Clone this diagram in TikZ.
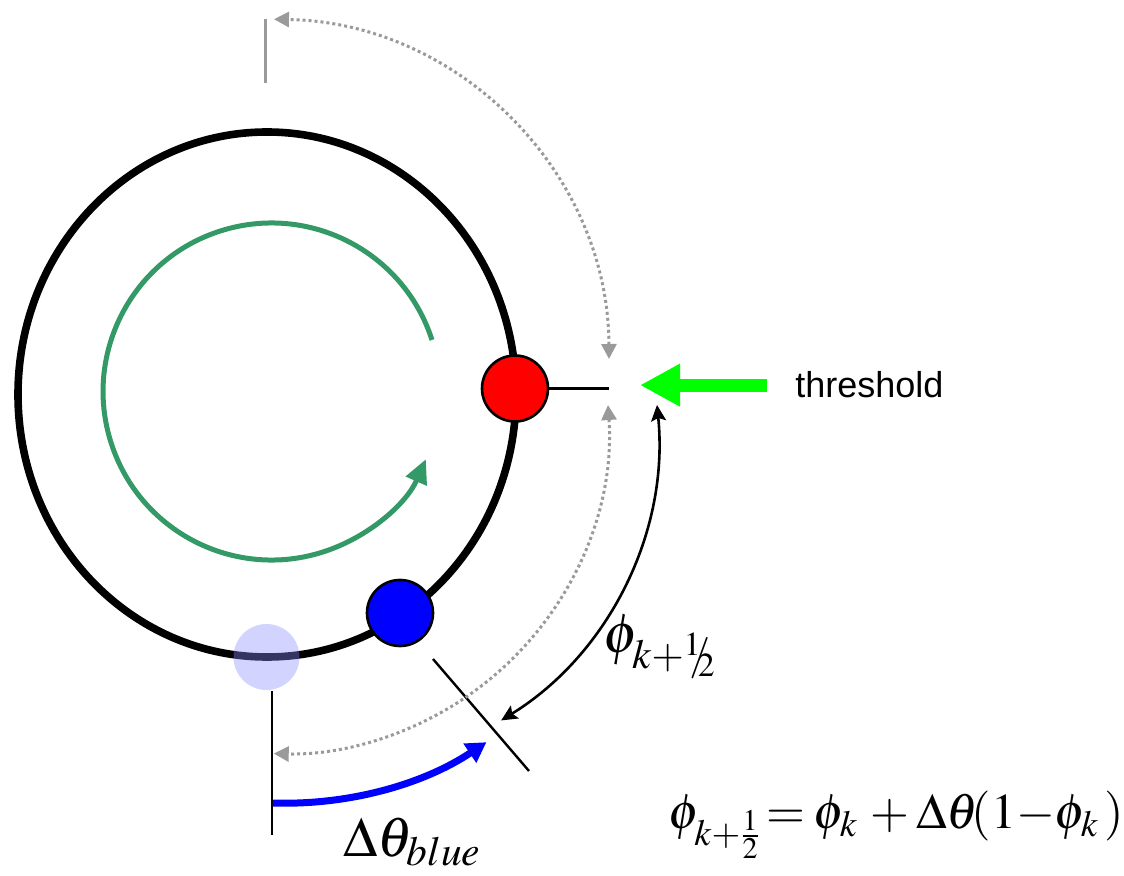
\documentclass[tikz,border=0pt]{standalone}
\usepackage{mathptmx}
\usepackage[no-math]{fontspec}
\newfontfamily\labelfont{Liberation Sans}
\usepackage{tikz}
\usetikzlibrary{arrows.meta, calc, positioning}
\definecolor{mGreen}{HTML}{339966}
\definecolor{mLime}{HTML}{00FF00}
\definecolor{mGrey}{HTML}{9A9A9A}
\newcommand{\slashhalf}{\raisebox{.55ex}{$\scriptscriptstyle 1$}\kern-.2em/\kern-.22em\raisebox{-.35ex}{$\scriptscriptstyle 2$}}

\begin{document}
\begin{tikzpicture}[x=0.5pt, y=-0.5pt,
  ring/.style={line width=3.8pt},
  ball/.style={circle, draw=black, line width=1.3pt, inner sep=0pt, minimum size=33pt},
  spin/.style={mGreen, line width=2.5pt, -{Triangle[length=12pt, width=11pt]}},
  gaparc/.style={mGrey, line width=1.5pt, dash pattern=on 1.5pt off 1.5pt,
                 {Triangle[length=7.5pt, width=7.5pt]}-{Triangle[length=7.5pt, width=7.5pt]}},
  phasearc/.style={line width=1.3pt, {Stealth[length=8pt, width=7.5pt, inset=1.5pt]}-{Stealth[length=8pt, width=7.5pt, inset=1.5pt]}},
  kick/.style={blue, line width=3.5pt, -{Triangle[length=10pt, width=11pt]}},
  markline/.style={line width=1.2pt},
  bigmath/.style={inner sep=0pt, font=\fontsize{28}{32}\selectfont}]
  \useasboundingbox (0,0) rectangle (1124,876);
  % oscillator ring and direction of rotation
  \draw[ring] (267,394.5) ellipse [x radius=249, y radius=262.5];
  \coordinate (spinA) at (432,340);
  \draw[spin] (spinA) arc[start angle=-17.8, end angle=-336.3, radius=168.5];
  % phases
  \node[ball, fill=blue!45, fill opacity=0.38, draw=none] (ghost) at (266.5,657) {};
  \node[ball, fill=red] (red) at (515,388.5) {};
  \node[ball, fill=blue] (blue) at (400,613) {};
  % threshold
  \coordinate (thrpt) at (609,388.5);
  \draw[markline] (red.east) -- (thrpt);
  \node[anchor=base west, inner sep=0pt, font=\labelfont\fontsize{18}{22}\selectfont] (thr) at (795,398) {threshold};
  \coordinate (gtip) at (640,383);
  \draw[mLime, line width=6.5pt, -{Triangle[length=20pt, width=20pt]}] ([xshift=-14pt]thr.west) -- (gtip |- thr.west);
  % reset marks
  \coordinate (topA) at (265,19);
  \coordinate (topB) at (265,83);
  \draw[mGrey, line width=1.5pt] (topA) -- (topB);
  \coordinate (base) at (272,835);
  \draw[markline] (ghost.south -| base) -- (base);
  \coordinate (tickA) at (433,659);
  \coordinate (tickB) at (529,771);
  \draw[markline] (tickA) -- (tickB);
  % dotted jumps
  \coordinate (gapU) at (609,359);
  \draw[gaparc] (gapU) arc[start angle=-0.2, end angle=-89, radius=341];
  \coordinate (gapD) at (608,405);
  \draw[gaparc] (gapD) arc[start angle=-3.9, end angle=91.5, radius=326.5];
  % phase to threshold
  \coordinate (phA) at (657,405);
  \draw[phasearc] (phA) arc[start angle=-5.7, end angle=58.3, radius=332];
  % phase advance
  \coordinate (kickA) at (273,803);
  \draw[kick] (kickA) arc[start angle=91.9, end angle=56.3, radius=363];
  % labels
  \node[bigmath, anchor=base west] (phlab) at (603,652) {$\phi_{k+\slashhalf}$};
  \node[bigmath, anchor=base west] (dtlab) at (343,856) {$\Delta\theta_{blue}$};
  \node[bigmath, anchor=base west, font=\fontsize{25}{30}\selectfont] (rule) at (668,828)
    {$\phi_{k+\frac{1}{2}}\mskip-2mu=\mskip-1mu\phi_k\mskip2mu+\Delta\theta\mskip-2.5mu(1{-}\phi_k\,)$};
\end{tikzpicture}
\end{document}
